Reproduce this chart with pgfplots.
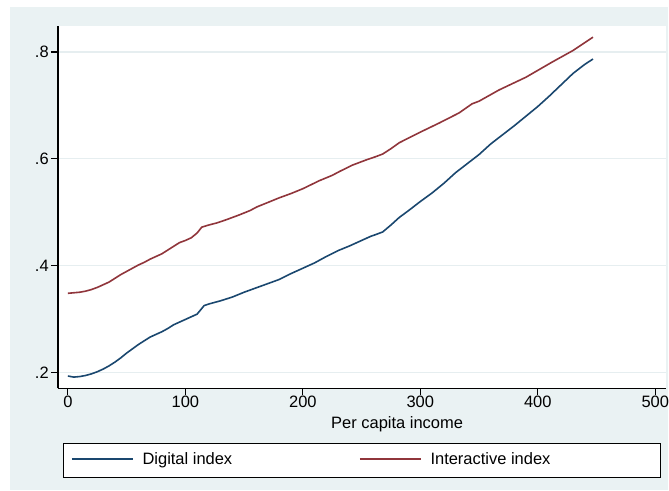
\documentclass[border=0pt]{standalone}
\usepackage{fontspec}
\setmainfont{Liberation Sans}
\usepackage{pgfplots}
\pgfplotsset{compat=1.18}
\definecolor{bgc}{HTML}{EAF2F3}
\definecolor{gridc}{HTML}{E6EEF0}
\definecolor{navyc}{HTML}{1A476F}
\definecolor{maroonc}{HTML}{90353B}
\newcommand{\ff}{\fontsize{16.5bp}{19bp}\selectfont}
\begin{document}
\begin{tikzpicture}[x=1bp,y=1bp]
\fill[white] (0,0) rectangle (669,491);
\fill[bgc] (10,0) rectangle (669,484);
\draw[line width=1.2bp, fill=white] (64,13) rectangle (662,47);
\begin{axis}[
  at={(58bp,102bp)}, anchor=south west,
  scale only axis, width=609bp, height=363bp,
  xmin=-8.5, xmax=509, ymin=0.170, ymax=0.849,
  axis x line*=bottom, axis y line*=left,
  axis line style={-, line width=1.5bp, black},
  axis background/.style={fill=white},
  xtick={0,100,200,300,400,500},
  ytick={0.2,0.4,0.6,0.8}, yticklabels={.2,.4,.6,.8},
  tick align=outside, major tick length=7bp,
  tick style={line width=1.2bp, black},
  ymajorgrids, grid style={line width=1.2bp, gridc},
  /pgf/number format/assume math mode=true,
  tick label style={font=\ff},
  yticklabel style={inner sep=0pt, anchor=east, xshift=-2bp},
  xticklabel style={inner sep=0pt, anchor=north, yshift=-1bp},
  xlabel={Per capita income},
  xlabel style={font=\ff, at={(rel axis cs:0.558,0)}, anchor=north, inner sep=0pt, yshift=-28bp},
  legend columns=2,
  legend style={at={(rel axis cs:0.02135,-0.1956)}, anchor=west, draw=none, fill=none,
    inner sep=0pt, font=\ff, nodes={inner sep=0pt, anchor=west},
    /tikz/every odd column/.append style={column sep=9bp},
    /tikz/every even column/.append style={column sep=127bp}},
  legend image code/.code={\draw[#1] (0bp,0bp) -- (61bp,0bp);},
  every axis plot/.append style={line width=1.6bp},
]
\addplot[navyc] coordinates {
(0,0.193) (5,0.191) (10,0.192) (15,0.194) (20,0.197) (25,0.201) (30,0.206) (35,0.212)
(40,0.219) (45,0.227) (50,0.236) (55,0.244) (60,0.252) (65,0.259) (70,0.266) (75,0.271)
(80,0.276) (85,0.282) (90,0.289) (95,0.294) (100,0.299) (105,0.304) (110,0.309) (113,0.317)
(116,0.325) (120,0.328) (125,0.331) (130,0.334) (140,0.341) (150,0.350) (160,0.358) (170,0.366)
(180,0.374) (190,0.385) (200,0.395) (210,0.405) (220,0.417) (230,0.428) (240,0.437) (250,0.447)
(258,0.455) (262,0.458) (268,0.463) (275,0.476) (282,0.490) (290,0.503) (300,0.520) (310,0.536)
(320,0.554) (330,0.574) (340,0.591) (350,0.608) (360,0.628) (370,0.645) (380,0.662) (390,0.680)
(400,0.698) (410,0.718) (420,0.739) (430,0.760) (440,0.777) (447,0.787)
};
\addlegendentry{Digital index}
\addplot[maroonc] coordinates {
(0,0.348) (5,0.349) (10,0.350) (15,0.352) (20,0.355) (25,0.359) (30,0.364) (35,0.369)
(40,0.376) (45,0.383) (50,0.389) (55,0.395) (60,0.401) (65,0.406) (70,0.412) (75,0.417)
(80,0.422) (85,0.429) (90,0.436) (95,0.443) (100,0.447) (105,0.452) (110,0.461) (114,0.472)
(120,0.476) (127,0.480) (135,0.486) (146,0.495) (155,0.503) (161,0.510) (170,0.518) (180,0.527)
(190,0.535) (200,0.544) (214,0.559) (225,0.569) (231,0.576) (242,0.588) (254,0.598) (262,0.604)
(268,0.609) (275,0.619) (282,0.630) (290,0.639) (300,0.650) (316,0.667) (333,0.686) (344,0.703)
(350,0.708) (367,0.729) (390,0.753) (412,0.781) (430,0.803) (447,0.828)
};
\addlegendentry{Interactive index}
\end{axis}
\end{tikzpicture}
\end{document}
